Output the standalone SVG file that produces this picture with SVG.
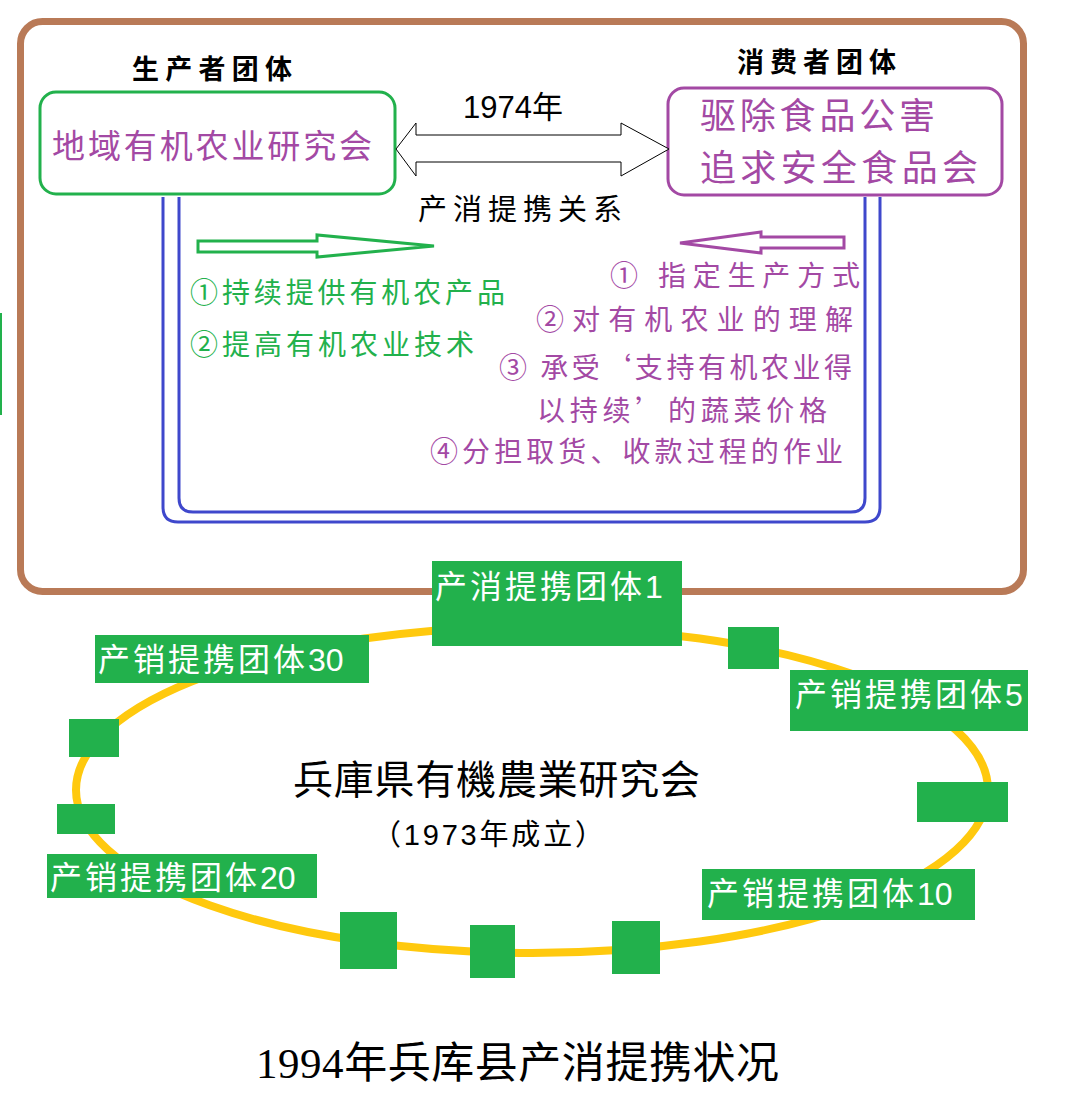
<svg xmlns="http://www.w3.org/2000/svg" width="1072" height="1094" viewBox="0 0 1072 1094">
<style>
.cjk{font-family:"Noto Sans CJK SC","Noto Sans",sans-serif;}
.ser{font-family:"Liberation Serif","Noto Sans CJK SC",serif;}
.num{font-family:"Liberation Sans","Noto Sans CJK SC",sans-serif;}
.pur{fill:#a349a4;}
.grn{fill:#22b14c;}
.blk{fill:#000;}
.wht{fill:#fff;}
.gbox{fill:#22b14c;}
.lbl{font-family:"Noto Sans CJK SC",sans-serif;font-size:32px;fill:#fff;letter-spacing:3px;}
.dg{font-family:"Liberation Sans",sans-serif;letter-spacing:0;}
.blue{fill:none;stroke:#3f48cc;stroke-width:3;}
</style>
<rect width="1072" height="1094" fill="#fff"/>
<line x1="1" y1="313" x2="1" y2="415" stroke="#22b14c" stroke-width="2"/>

<g id="frame">
<rect x="20.5" y="21.5" width="1003" height="570" rx="22" fill="none" stroke="#b97a57" stroke-width="7"/>
</g>

<g id="producer">
<text class="cjk blk" x="132" y="79" font-size="27" font-weight="bold" textLength="160" lengthAdjust="spacing">生产者团体</text>
<rect x="40" y="92" width="355" height="102" rx="16" fill="#fff" stroke="#22b14c" stroke-width="3"/>
<text class="cjk pur" x="52" y="158" font-size="33" textLength="320" lengthAdjust="spacing">地域有机农业研究会</text>
</g>

<g id="consumer">
<text class="cjk blk" x="737" y="72" font-size="27" font-weight="bold" textLength="159" lengthAdjust="spacing">消费者团体</text>
<rect x="668" y="88" width="334" height="107" rx="16" fill="#fff" stroke="#a349a4" stroke-width="3"/>
<text class="cjk pur" x="700" y="129" font-size="36" textLength="235" lengthAdjust="spacing">驱除食品公害</text>
<text class="cjk pur" x="700" y="181" font-size="36" textLength="278" lengthAdjust="spacing">追求安全食品会</text>
</g>

<g id="connectors">
<polygon points="396,149 416,123 416,135 621,135 621,123 669,149 621,176 621,162 416,162 416,176" fill="#fff" stroke="#000" stroke-width="1"/>
<path class="blue" d="M163,197 V507 Q163,522 178,522 H865 Q880,522 880,507 V197"/>
<path class="blue" d="M179,197 V498 Q179,512 193,512 H851 Q865,512 865,498 V197"/>
<polygon points="198,241 317,241 317,235 434,246 317,257 317,252 198,252" fill="#fff" stroke="#22b14c" stroke-width="3"/>
<polygon points="844,237 761,237 761,232 680,243 761,253 761,248 844,248" fill="#fff" stroke="#a349a4" stroke-width="3"/>
</g>

<g id="relation">
<text class="num blk" x="463" y="118" font-size="31">1974年</text>
<text class="cjk blk" x="418" y="220" font-size="29" textLength="204" lengthAdjust="spacing">产消提携关系</text>
</g>

<g id="producer-roles">
<text class="cjk grn" x="190" y="303" font-size="28" textLength="315" lengthAdjust="spacing">①持续提供有机农产品</text>
<text class="cjk grn" x="190" y="355" font-size="28" textLength="284" lengthAdjust="spacing">②提高有机农业技术</text>
</g>

<g id="consumer-roles">
<text class="cjk pur" x="610" y="286" font-size="28" textLength="250" lengthAdjust="spacing">① 指定生产方式</text>
<text class="cjk pur" x="536" y="330" font-size="28" textLength="317" lengthAdjust="spacing">②对有机农业的理解</text>
<text class="cjk pur" x="499" y="378" font-size="28" textLength="353" lengthAdjust="spacing">③ 承受‘支持有机农业得</text>
<text class="cjk pur" x="537" y="421" font-size="28" textLength="290" lengthAdjust="spacing">以持续’的蔬菜价格</text>
<text class="cjk pur" x="430" y="462" font-size="28" textLength="413" lengthAdjust="spacing">④分担取货、收款过程的作业</text>
</g>

<g id="ring">
<ellipse cx="532" cy="790" rx="456" ry="163" fill="none" stroke="#ffc90e" stroke-width="8"/>
</g>

<g id="center">
<text class="ser blk" x="293" y="794" font-size="40" textLength="407" lengthAdjust="spacing">兵庫県有機農業研究会</text>
<text class="num blk" x="372" y="845" font-size="29" textLength="232" lengthAdjust="spacing">（1973年成立）</text>
</g>

<g id="group1">
<rect class="gbox" x="432" y="561" width="250" height="85"/>
<text class="lbl" x="435" y="598">产消提携团体<tspan class="dg">1</tspan></text>
</g>
<g id="group5">
<rect class="gbox" x="790" y="670" width="238" height="61"/>
<text class="lbl" x="795" y="706">产销提携团体<tspan class="dg">5</tspan></text>
</g>
<g id="group10">
<rect class="gbox" x="702" y="869" width="273" height="51"/>
<text class="lbl" x="707" y="905">产销提携团体<tspan class="dg">10</tspan></text>
</g>
<g id="group20">
<rect class="gbox" x="47" y="854" width="270" height="44"/>
<text class="lbl" x="50" y="889">产销提携团体<tspan class="dg">20</tspan></text>
</g>
<g id="group30">
<rect class="gbox" x="95" y="635" width="274" height="48"/>
<text class="lbl" x="98" y="671">产销提携团体<tspan class="dg">30</tspan></text>
</g>
<g id="g-a"><rect class="gbox" x="728" y="627" width="51" height="42"/></g>
<g id="g-b"><rect class="gbox" x="917" y="782" width="91" height="40"/></g>
<g id="g-c"><rect class="gbox" x="612" y="921" width="48" height="53"/></g>
<g id="g-d"><rect class="gbox" x="470" y="925" width="45" height="53"/></g>
<g id="g-e"><rect class="gbox" x="340" y="912" width="57" height="57"/></g>
<g id="g-f"><rect class="gbox" x="57" y="804" width="58" height="30"/></g>
<g id="g-g"><rect class="gbox" x="69" y="719" width="50" height="38"/></g>

<g id="title">
<text class="ser blk" x="256" y="1078" font-size="43" textLength="523" lengthAdjust="spacing">1994年兵库县产消提携状况</text>
</g>
</svg>
